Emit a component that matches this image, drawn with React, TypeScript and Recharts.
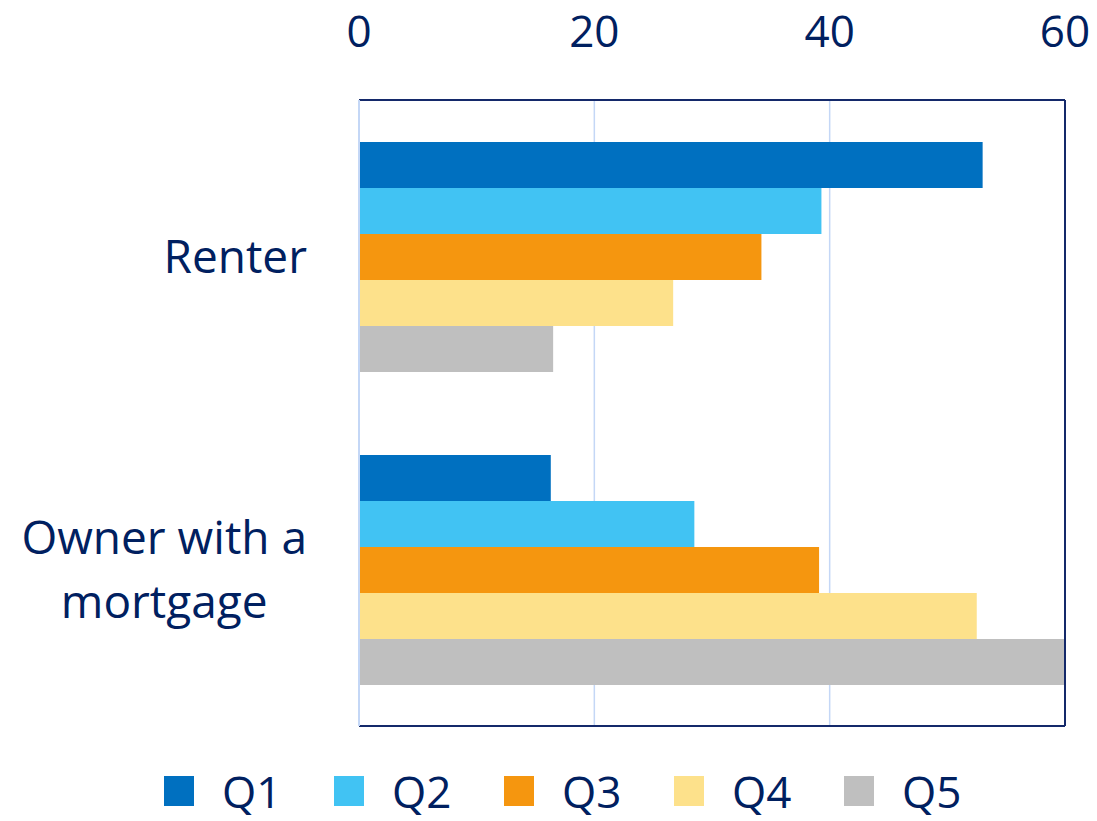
import React from 'react';
import {
  BarChart,
  Bar,
  XAxis,
  YAxis,
  CartesianGrid,
  Legend,
  ReferenceLine,
} from 'recharts';

// Share of households by tenure, per income quintile
const CATEGORIES = ['Renter', 'Owner with a\nmortgage'];
const Q1 = [53.0, 16.3];
const Q2 = [39.3, 28.5];
const Q3 = [34.2, 39.1];
const Q4 = [26.7, 52.5];
const Q5 = [16.5, 60.0];
const X_TICKS = [0, 20, 40, 60];

const SERIES = [
  { key: 'Q1', values: Q1, color: '#0070C0' },
  { key: 'Q2', values: Q2, color: '#41C3F3' },
  { key: 'Q3', values: Q3, color: '#F5960F' },
  { key: 'Q4', values: Q4, color: '#FDE18B' },
  { key: 'Q5', values: Q5, color: '#BFBFBF' },
];

const TEXT = '#002060';
const BORDER = '#14296A';
const GRID = '#C4D7F6';
const FONT = '"Open Sans", "Noto Sans", sans-serif';

const data = CATEGORIES.map((name, i) => {
  const row: Record<string, string | number> = { name };
  SERIES.forEach((s) => {
    row[s.key] = s.values[i];
  });
  return row;
});

// measure text width so that multi-line labels are centred on each other
let ctx: CanvasRenderingContext2D | null = null;
const measure = (text: string, size: number) => {
  if (!ctx) ctx = document.createElement('canvas').getContext('2d');
  if (!ctx) return text.length * size * 0.55;
  ctx.font = `${size}px "Open Sans"`;
  return ctx.measureText(text).width;
};

const CategoryTick = (props: any) => {
  const { x, y, payload } = props;
  const lines = String(payload.value).split('\n');
  const size = 46;
  const lineH = 64;
  const blockW = Math.max(...lines.map((l) => measure(l, size)));
  const cx = x - blockW / 2;
  return (
    <g>
      {lines.map((l, i) => (
        <text
          key={i}
          x={cx}
          y={y + 16 + (i - (lines.length - 1) / 2) * lineH}
          textAnchor="middle"
          fill={TEXT}
          fontSize={size}
          fontFamily={FONT}
        >
          {l}
        </text>
      ))}
    </g>
  );
};

const LegendContent = () => (
  <div
    style={{
      display: 'flex',
      alignItems: 'center',
      paddingLeft: 164,
      height: 50,
      fontFamily: FONT,
    }}
  >
    {SERIES.map((s) => (
      <div
        key={s.key}
        style={{ width: 170, display: 'flex', alignItems: 'center' }}
      >
        <div style={{ width: 30, height: 30, background: s.color }} />
        <span style={{ marginLeft: 28, fontSize: 44, color: TEXT, lineHeight: 1 }}>
          {s.key}
        </span>
      </div>
    ))}
  </div>
);

export default function App() {
  return (
    <div style={{ position: 'absolute', left: 0, top: 0, background: '#fff' }}>
      <BarChart
        width={1097}
        height={821}
        data={data}
        layout="vertical"
        barGap={0}
        barCategoryGap="13.4%"
        margin={{ top: 0, right: 32, bottom: 44, left: 0 }}
      >
        <CartesianGrid
          horizontal={false}
          stroke={GRID}
          strokeWidth={1.5}
          xAxisId="top"
          yAxisId="left"
        />
        <XAxis
          xAxisId="top"
          type="number"
          orientation="top"
          domain={[0, 60]}
          ticks={X_TICKS}
          allowDataOverflow
          height={100}
          tickLine={false}
          tickSize={0}
          tickMargin={53}
          axisLine={{ stroke: BORDER, strokeWidth: 2 }}
          tick={{ fill: TEXT, fontSize: 44, fontFamily: FONT }}
        />
        {/* bottom edge of the plot frame */}
        <XAxis
          xAxisId="bottom"
          type="number"
          orientation="bottom"
          domain={[0, 60]}
          height={1}
          tick={false}
          tickLine={false}
          axisLine={{ stroke: BORDER, strokeWidth: 2 }}
        />
        <YAxis
          yAxisId="left"
          type="category"
          dataKey="name"
          width={359}
          tickLine={false}
          tickSize={0}
          tickMargin={52}
          axisLine={{ stroke: GRID, strokeWidth: 2 }}
          tick={<CategoryTick />}
        />
        {SERIES.map((s) => (
          <Bar
            key={s.key}
            dataKey={s.key}
            xAxisId="top"
            yAxisId="left"
            fill={s.color}
            isAnimationActive={false}
          />
        ))}
        {/* right edge of the plot frame */}
        <ReferenceLine
          xAxisId="top"
          yAxisId="left"
          x={60}
          stroke={BORDER}
          strokeWidth={2}
          ifOverflow="visible"
        />
        <Legend
          verticalAlign="bottom"
          content={<LegendContent />}
          wrapperStyle={{ left: 0, top: 766, width: 1097, height: 50 }}
        />
      </BarChart>
    </div>
  );
}
